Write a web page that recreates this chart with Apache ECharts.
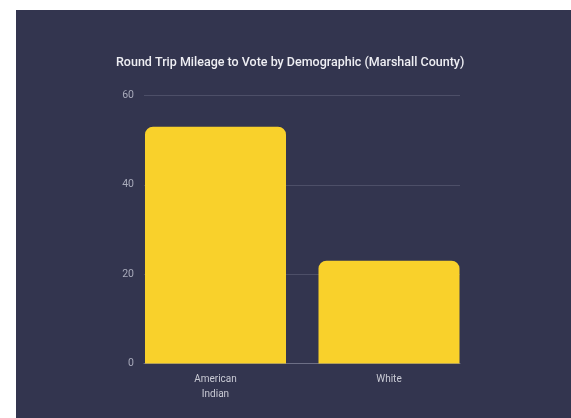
<!DOCTYPE html>
<html>
<head>
<meta charset="utf-8">
<script src="https://cdn.jsdelivr.net/npm/echarts@6/dist/echarts.min.js"></script>
<style>
  html, body { margin: 0; padding: 0; background: #ffffff; }
  #chart { position: absolute; left: 16px; top: 10px; width: 555px; height: 408px; background: #33354f; }
</style>
</head>
<body>
<div id="chart"></div>
<script>
// data
var categories = ['American\nIndian', 'White'];
var mileage = [53, 23];
var yTicks = [0, 20, 40, 60];

var myChart = echarts.init(document.getElementById('chart'));

myChart.setOption({
	animation: false,
	title: {
		text: 'Round Trip Mileage to Vote by Demographic (Marshall County)',
		left: 95,
		top: 41,
		textStyle: {
			color: '#eeeef3',
			fontFamily: 'Roboto',
			fontWeight: 500,
			fontSize: 12.5
		}
	},
	grid: [
		{ left: 128, right: 111, top: 85.5, bottom: 54.5 }, // grid lines + axis line
		{ left: 112.75, width: 347, top: 85.5, bottom: 54.5 } // bars + labels
	],
	xAxis: [{
		gridIndex: 0,
		type: 'category',
		data: categories,
		axisLine: { lineStyle: { color: '#6d6f86', width: 1 } },
		axisTick: { show: false },
		axisLabel: { show: false }
	}, {
		gridIndex: 1,
		type: 'category',
		data: categories,
		axisLine: { show: false },
		axisTick: { show: false },
		axisLabel: {
			color: '#c9cad4',
			fontFamily: 'Roboto',
			fontSize: 10,
			lineHeight: 15,
			margin: 8
		}
	}],
	yAxis: [{
		gridIndex: 0,
		type: 'value',
		min: 0,
		max: 60,
		interval: 20,
		axisLine: { show: false },
		axisTick: { show: false },
		axisLabel: {
			color: '#a9abbb',
			fontFamily: 'Roboto',
			fontSize: 10.5,
			margin: 10
		},
		splitLine: { lineStyle: { color: '#4d4f68', width: 1 } }
	}, {
		gridIndex: 1,
		type: 'value',
		min: 0,
		max: 60,
		show: false
	}],
	series: [{
		type: 'bar',
		xAxisIndex: 1,
		yAxisIndex: 1,
		data: mileage,
		barWidth: 141,
		itemStyle: {
			color: '#f9d12b',
			borderRadius: [8, 8, 0, 0]
		}
	}]
});
</script>
</body>
</html>
